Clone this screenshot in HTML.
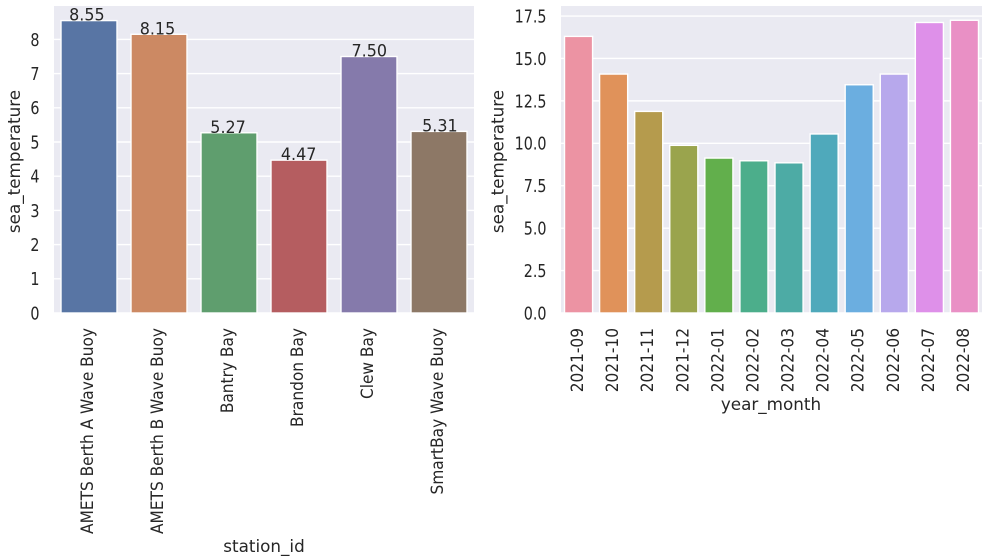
<!DOCTYPE html>
<html>
<head>
<meta charset="utf-8">
<style>
html,body{margin:0;padding:0;background:#fff;}
svg{display:block;}
text{font-family:"DejaVu Sans","Liberation Sans",sans-serif;fill:#262626;}
</style>
</head>
<body>
<svg id="chart" width="986" height="560" viewBox="0 0 986 560" xmlns="http://www.w3.org/2000/svg"></svg>
<script>
const stationCategories = ["AMETS Berth A Wave Buoy","AMETS Berth B Wave Buoy","Bantry Bay","Brandon Bay","Clew Bay","SmartBay Wave Buoy"];
const stationValues = [8.55,8.15,5.27,4.47,7.50,5.31];
const stationTicks = [0,1,2,3,4,5,6,7,8];
const stationTickLabels = ["0","1","2","3","4","5","6","7","8"];
const stationColors = ["#5875a4","#cc8963","#5f9e6e","#b55d60","#857aab","#8d7866"];
const monthCategories = ["2021-09","2021-10","2021-11","2021-12","2022-01","2022-02","2022-03","2022-04","2022-05","2022-06","2022-07","2022-08"];
const monthValues = [16.3,14.08,11.88,9.88,9.13,8.97,8.85,10.55,13.45,14.08,17.12,17.25];
const monthTicks = [0,2.5,5,7.5,10,12.5,15,17.5];
const monthTickLabels = ["0.0","2.5","5.0","7.5","10.0","12.5","15.0","17.5"];
const monthColors = ["#ec93a3","#e0925a","#b59b4d","#9aa44d","#62af4c","#4cae8b","#4daba5","#4fa9bb","#6baee0","#b7a8ec","#de90e9","#e990c5"];

const svg = document.getElementById('chart');
const NS = 'http://www.w3.org/2000/svg';
function make(tag, attrs, parent){
  const el = document.createElementNS(NS, tag);
  for (const k in attrs) el.setAttribute(k, attrs[k]);
  parent.appendChild(el);
  return el;
}
function drawPanel(cfg){
  const g = make('g', {}, svg);
  
  
  const xBand = i => cfg.left + (cfg.right - cfg.left) * i / cfg.categories.length;
  const step = (cfg.right - cfg.left) / cfg.categories.length;
  const y = v => cfg.bottom - v * cfg.unit;

  const bg = make('rect', {x:cfg.left, y:cfg.top, width:cfg.right-cfg.left, height:cfg.bottom-cfg.top, fill:'#eaeaf2'}, g);
  
  

  cfg.ticks.forEach((t, i) => {
    const line = make('line', {x1:cfg.left, x2:cfg.right, y1:y(t), y2:y(t), stroke:'#fff', 'stroke-width':1.4}, g);
    
    
    const label = make('text', {transform:'translate('+(cfg.left-14.5)+','+(y(t)+6.4)+') scale(0.93,1.13)', 'text-anchor':'end', 'font-size':15.4}, g);
    label.textContent = cfg.tickLabels[i];
    
    
  });

  cfg.categories.forEach((c, i) => {
    const barX = xBand(i) + step * 0.1;
    const barW = step * 0.8;
    const bar = make('rect', {x:barX, y:y(cfg.values[i]), width:barW, height:cfg.values[i]*cfg.unit, fill:cfg.colors[i], stroke:'#fff', 'stroke-width':1.4}, g);
    
    

    const cx = xBand(i) + step / 2;
    const tick = make('text', {transform:'translate('+(cx+cfg.tickShift)+','+cfg.tickTop+') rotate(-90) scale(1,1.1)', 'text-anchor':'end', 'font-size':15.4}, g);
    tick.textContent = c;
    
    

    if (cfg.showValues) {
      const val = make('text', {transform:'translate('+(cx-17.5-2.4+0.6*i)+','+y(cfg.values[i])+') scale(0.95,1)', 'text-anchor':'start', 'font-size':16.8}, g);
      val.textContent = cfg.values[i].toFixed(2);
      
      
    }
  });

  const xt = make('text', {x:cfg.xLabelX, y:cfg.xLabelY, 'text-anchor':'middle', 'font-size':16.8}, g);
  xt.textContent = cfg.xLabel;
  
  

  const yt = make('text', {transform:'translate('+cfg.yLabelX+','+((cfg.top+cfg.bottom)/2+2)+') rotate(-90)', 'text-anchor':'middle', 'font-size':16.8}, g);
  yt.textContent = 'sea_temperature';
  
  
}
drawPanel({name:'station-bar-chart', left:54, right:474, top:6, bottom:313, unit:34.2,
  categories:stationCategories, values:stationValues, ticks:stationTicks, tickLabels:stationTickLabels, colors:stationColors,
  showValues:true, tickShift:3.8, tickTop:328, xLabel:'station_id', xLabelX:264, xLabelY:552, yLabelX:20});
drawPanel({name:'month-bar-chart', left:561, right:982, top:6, bottom:313, unit:16.97,
  categories:monthCategories, values:monthValues, ticks:monthTicks, tickLabels:monthTickLabels, colors:monthColors,
  showValues:false, tickShift:4.5, tickTop:328, xLabel:'year_month', xLabelX:771, xLabelY:410, yLabelX:503.5});
</script>
</body>
</html>
